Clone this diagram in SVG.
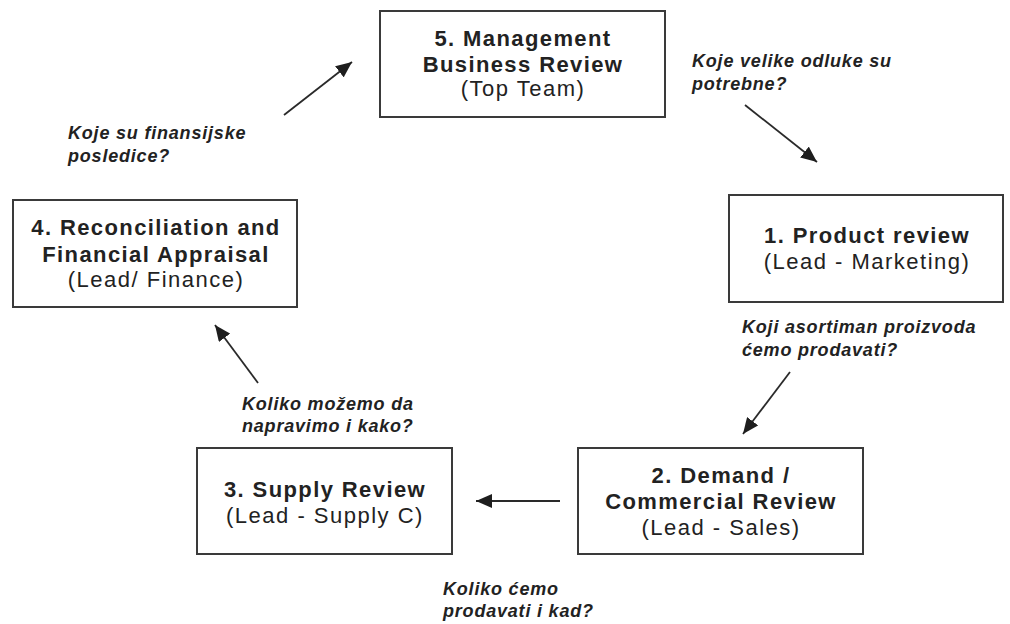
<svg xmlns="http://www.w3.org/2000/svg" width="1010" height="624" viewBox="0 0 1010 624">
  <style>
    .box { fill: #ffffff; stroke: #3a3a3a; stroke-width: 2; }
    .title { font-family: "Liberation Sans", Arial, sans-serif; font-weight: bold; font-size: 22px; letter-spacing: 1.4px; fill: #222222; text-anchor: middle; }
    .sub { font-family: "Liberation Sans", Arial, sans-serif; font-size: 22px; letter-spacing: 1.5px; fill: #222222; text-anchor: middle; }
    .q { font-family: "Liberation Sans", Arial, sans-serif; font-weight: bold; font-style: italic; font-size: 18px; letter-spacing: 0.8px; fill: #222222; }
    .arrow { stroke: #2a2a2a; stroke-width: 1.8; fill: none; marker-end: url(#head); }
  </style>
  <defs>
    <marker id="head" markerUnits="userSpaceOnUse" markerWidth="18" markerHeight="14" refX="16" refY="7" orient="auto">
      <path d="M0,0 L16,7 L0,14 Z" fill="#1e1e1e"/>
    </marker>
  </defs>
  <rect width="1010" height="624" fill="#ffffff"/>

  <g id="node-5">
    <rect class="box" x="380" y="11" width="285" height="106"/>
    <text class="title" x="523" y="46">5. Management</text>
    <text class="title" x="523" y="72">Business Review</text>
    <text class="sub" x="523" y="96">(Top Team)</text>
  </g>

  <g id="node-1">
    <rect class="box" x="729" y="195" width="274" height="107"/>
    <text class="title" x="867" y="243">1. Product review</text>
    <text class="sub" x="867" y="269">(Lead - Marketing)</text>
  </g>

  <g id="node-2">
    <rect class="box" x="578" y="448" width="285" height="106"/>
    <text class="title" x="721" y="483">2. Demand /</text>
    <text class="title" x="721" y="509">Commercial Review</text>
    <text class="sub" x="721" y="535">(Lead - Sales)</text>
  </g>

  <g id="node-3">
    <rect class="box" x="197" y="448" width="255" height="106"/>
    <text class="title" x="325" y="497">3. Supply Review</text>
    <text class="sub" x="325" y="523">(Lead - Supply C)</text>
  </g>

  <g id="node-4">
    <rect class="box" x="13" y="200" width="284" height="107"/>
    <text class="title" x="156" y="235">4. Reconciliation and</text>
    <text class="title" x="156" y="262">Financial Appraisal</text>
    <text class="sub" x="156" y="287">(Lead/ Finance)</text>
  </g>

  <g id="connectors">
    <line class="arrow" x1="745" y1="105" x2="817" y2="162"/>
    <line class="arrow" x1="790" y1="372" x2="743" y2="434"/>
    <line class="arrow" x1="560" y1="501" x2="476" y2="501"/>
    <line class="arrow" x1="258" y1="383" x2="215" y2="325"/>
    <line class="arrow" x1="284" y1="115" x2="352" y2="62"/>
  </g>

  <g id="questions">
    <text class="q" x="692" y="67">Koje velike odluke su</text>
    <text class="q" x="692" y="90">potrebne?</text>
    <text class="q" x="742" y="333">Koji asortiman proizvoda</text>
    <text class="q" x="742" y="356">ćemo prodavati?</text>
    <text class="q" x="443" y="595">Koliko ćemo</text>
    <text class="q" x="443" y="617">prodavati i kad?</text>
    <text class="q" x="242" y="410">Koliko možemo da</text>
    <text class="q" x="242" y="432">napravimo i kako?</text>
    <text class="q" x="68" y="139">Koje su finansijske</text>
    <text class="q" x="68" y="162">posledice?</text>
  </g>
</svg>
